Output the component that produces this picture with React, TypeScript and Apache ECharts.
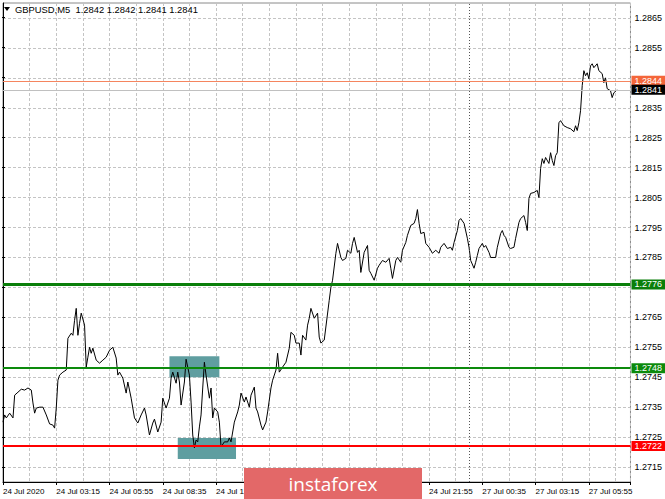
import React, { useEffect, useRef } from "react";
import * as echarts from "echarts";

// ---- data ----
const symbolTitle = "GBPUSD,M5  1.2842 1.2842 1.2841 1.2841";
const timeLabels = [
  "24 Jul 2020", "24 Jul 03:15", "24 Jul 05:55", "24 Jul 08:35", "24 Jul 11:15",
  "24 Jul 13:55", "24 Jul 16:35", "24 Jul 19:15", "24 Jul 21:55",
  "27 Jul 00:35", "27 Jul 03:15", "27 Jul 05:55",
];
// labels that sit fully under the watermark in the reference
const labelsUnderLogo = [5, 6, 7];
const barsPerLabel = 32;
const barsVisible = 377;
const priceMin = 1.271;
const priceMax = 1.287;

// [bar index, close]
const closes: [number, number][] = [
  [0,1.27300],[1,1.27324],[2,1.27314],[4,1.27330],[6,1.27314],[7,1.27390],[9,1.27400],[11,1.27410],[13,1.27407],[15,1.27414],
  [17,1.27407],[18,1.27364],[19,1.27330],[20,1.27347],[22,1.27350],[24,1.27350],[26,1.27324],[28,1.27294],[30,1.27290],[31,1.27280],
  [32,1.27347],[33,1.27440],[34,1.27457],[36,1.27467],[38,1.27474],[39,1.27580],[41,1.27597],[42,1.27590],[43,1.27640],[44,1.27680],
  [45,1.27590],[46,1.27630],[47,1.27664],[49,1.27624],[50,1.27484],[51,1.27517],[52,1.27550],[53,1.27530],[54,1.27547],[56,1.27507],
  [58,1.27497],[60,1.27507],[62,1.27517],[64,1.27540],[66,1.27550],[68,1.27514],[69,1.27457],[70,1.27467],[72,1.27447],[74,1.27397],
  [75,1.27434],[77,1.27380],[79,1.27314],[81,1.27297],[83,1.27324],[85,1.27347],[86,1.27324],[88,1.27257],[90,1.27297],[91,1.27310],
  [93,1.27267],[95,1.27300],[96,1.27380],[98,1.27347],[100,1.27380],[101,1.27447],[102,1.27467],[104,1.27430],[105,1.27467],[106,1.27434],
  [107,1.27357],[109,1.27434],[110,1.27510],[112,1.27457],[113,1.27367],[114,1.27257],[115,1.27214],[116,1.27240],[117,1.27234],[118,1.27284],
  [119,1.27324],[120,1.27414],[121,1.27500],[122,1.27457],[124,1.27380],[125,1.27414],[126,1.27314],[127,1.27347],[129,1.27334],[130,1.27300],
  [131,1.27217],[133,1.27234],[135,1.27234],[136,1.27247],[137,1.27234],[139,1.27300],[141,1.27334],[142,1.27357],[143,1.27397],[145,1.27367],
  [146,1.27384],[148,1.27350],[149,1.27390],[151,1.27417],[152,1.27347],[153,1.27334],[155,1.27290],[156,1.27274],[158,1.27300],[159,1.27334],
  [161,1.27414],[162,1.27440],[164,1.27474],[165,1.27530],[166,1.27467],[168,1.27484],[170,1.27500],[172,1.27547],[173,1.27600],[175,1.27590],
  [176,1.27564],[178,1.27564],[179,1.27524],[180,1.27590],[182,1.27574],[183,1.27624],[184,1.27647],[185,1.27680],[187,1.27647],[189,1.27664],
  [190,1.27584],[191,1.27564],[193,1.27574],[196,1.27707],[197,1.27750],[198,1.27774],[200,1.27864],[201,1.27897],[203,1.27850],[204,1.27840],
  [206,1.27847],[207,1.27874],[209,1.27864],[210,1.27897],[211,1.27917],[213,1.27867],[214,1.27874],[215,1.27800],[217,1.27867],[219,1.27890],
  [220,1.27807],[221,1.27797],[223,1.27774],[225,1.27814],[226,1.27824],[228,1.27840],[230,1.27834],[232,1.27847],[233,1.27814],[234,1.27780],
  [236,1.27840],[237,1.27850],[239,1.27834],[240,1.27874],[242,1.27900],[243,1.27924],[245,1.27957],[247,1.27964],[248,1.27980],[249,1.28010],
  [250,1.27964],[251,1.27930],[253,1.27934],[254,1.27897],[256,1.27884],[258,1.27864],[260,1.27874],[262,1.27864],[263,1.27884],[265,1.27897],
  [267,1.27880],[269,1.27884],[270,1.27874],[271,1.27900],[273,1.27940],[274,1.27974],[275,1.27980],[277,1.27964],[279,1.27914],[280,1.27884],
  [281,1.27840],[283,1.27814],[284,1.27834],[285,1.27857],[286,1.27880],[288,1.27897],[289,1.27884],[290,1.27890],[292,1.27867],[293,1.27850],
  [296,1.27850],[297,1.27884],[299,1.27930],[300,1.27940],[301,1.27924],[302,1.27917],[304,1.27884],[305,1.27880],[307,1.27884],[308,1.27914],
  [310,1.27967],[311,1.27980],[313,1.27990],[314,1.27967],[315,1.27940],[316,1.28047],[317,1.28064],[319,1.28067],[321,1.28074],[322,1.28050],
  [323,1.28147],[324,1.28180],[325,1.28164],[326,1.28184],[328,1.28164],[329,1.28200],[330,1.28174],[331,1.28157],[332,1.28190],[333,1.28200],
  [334,1.28300],[335,1.28307],[337,1.28290],[339,1.28284],[341,1.28280],[343,1.28270],[344,1.28290],[345,1.28274],[346,1.28300],[347,1.28340],
  [348,1.28424],[349,1.28474],[350,1.28457],[351,1.28467],[352,1.28447],[353,1.28490],[354,1.28497],[355,1.28484],[357,1.28497],[358,1.28474],
  [360,1.28464],[361,1.28434],[362,1.28450],[363,1.28414],[365,1.28407],[366,1.28384],[367,1.28400],[369,1.28410],
];

const levelPrices = [1.2844, 1.2841, 1.2776, 1.2748, 1.2722];
const zoneBars: [number, number][] = [[100, 130], [105, 140]];
const zonePrices: [number, number][] = [[1.2752, 1.2745], [1.27247, 1.27177]];
const sessionBreakBar = 280;

// ---- styles ----
const FONT = '"Liberation Sans", Arial, sans-serif';
const levelStyles = [
  { line: "#f5855f", width: 1, bg: "#f4663a" },
  { line: "#c0c0c0", width: 1, bg: "#000000" },
  { line: "#0a7f0a", width: 3, bg: "#0a7f0a" },
  { line: "#0c8a0c", width: 2, bg: "#0c8a0c" },
  { line: "#ff0000", width: 2, bg: "#ff0000" },
];
const gridColor = "#c4c4c4";

export default function App() {
  const ref = useRef<HTMLDivElement>(null);
  useEffect(() => {
    if (!ref.current) return;
    const chart = echarts.init(ref.current, undefined, { renderer: "svg" });
    const levelData: any[] = levelPrices.map((p, i) => ({
      yAxis: p,
      lineStyle: { color: levelStyles[i].line, width: levelStyles[i].width, type: "solid" },
      label: {
        show: true,
        position: "end",
        distance: 1,
        formatter: () => p.toFixed(4),
        color: "#ffffff",
        backgroundColor: levelStyles[i].bg,
        padding: [1, 3, 0, 3],
        fontSize: 9,
        fontFamily: FONT,
      },
    }));
    levelData.push({
      xAxis: sessionBreakBar,
      lineStyle: { color: "#555555", width: 1, type: [1, 2] },
      label: { show: false },
    });

    const option: any = {
      animation: false,
      backgroundColor: "#ffffff",
      grid: [
        { left: 2, right: 34, top: 3, bottom: 17, show: true, borderColor: "#8a8a8a", borderWidth: 1, backgroundColor: "#ffffff" },
        { left: 2, right: 34, top: 17, bottom: 32 },
      ],
      xAxis: [
        {
          type: "value",
          gridIndex: 0,
          min: 0,
          max: barsVisible,
          interval: barsPerLabel / 2,
          axisLine: { show: true, lineStyle: { color: "#000", width: 1 } },
          axisTick: { show: false },
          axisLabel: {
            show: true,
            margin: 5,
            align: "left",
            fontSize: 8,
            fontFamily: FONT,
            color: "#000",
            showMaxLabel: false,
            formatter: (v: number) => {
              const k = Math.round(v);
              if (k % barsPerLabel !== 0) return "";
              const idx = k / barsPerLabel;
              if (labelsUnderLogo.includes(idx)) return "";
              return timeLabels[idx] ?? "";
            },
          },
          splitLine: { show: true, lineStyle: { color: gridColor, type: [3, 2], width: 1 } },
        },
        {
          type: "value",
          gridIndex: 0,
          position: "bottom",
          min: 0,
          max: barsVisible,
          interval: barsPerLabel,
          axisLine: { show: false },
          axisTick: { show: true, length: 3, lineStyle: { color: "#000" } },
          axisLabel: { show: false },
          splitLine: { show: false },
        },
        { type: "value", gridIndex: 1, show: false, min: 0, max: 1 },
      ],
      yAxis: [
        {
          type: "value",
          gridIndex: 0,
          position: "right",
          min: priceMin,
          max: priceMax,
          interval: 0.0005,
          axisLine: { show: true, lineStyle: { color: "#000", width: 1 } },
          axisTick: { show: false },
          axisLabel: {
            show: true,
            margin: 4,
            fontSize: 9,
            fontFamily: FONT,
            color: "#000",
            formatter: (v: number) => {
              const k = Math.round(v * 10000);
              if (k % 10 !== 5) return "";
              if (levelPrices.some((p) => Math.abs(p - v) < 0.00015)) return "";
              return v.toFixed(4);
            },
          },
          splitLine: { show: true, lineStyle: { color: ["rgba(0,0,0,0)", gridColor], type: [3, 2], width: 1 } },
        },
        {
          type: "value",
          gridIndex: 1,
          position: "right",
          min: 1.2715,
          max: 1.2865,
          interval: 0.001,
          axisLine: { show: false },
          axisTick: { show: true, length: 3, lineStyle: { color: "#000" } },
          axisLabel: { show: false },
          splitLine: { show: false },
        },
      ],
      series: [
        {
          type: "line",
          xAxisIndex: 0,
          yAxisIndex: 0,
          data: [],
          z: 1,
          markArea: {
            silent: true,
            itemStyle: { color: "#5f9ea0", opacity: 1 },
            data: zoneBars.map((b, i) => [
              { coord: [b[0], zonePrices[i][0]] },
              { coord: [b[1], zonePrices[i][1]] },
            ]),
          },
        },
        {
          type: "line",
          xAxisIndex: 0,
          yAxisIndex: 0,
          data: [],
          z: 2,
          markLine: {
            silent: true,
            symbol: ["none", "none"],
            precision: 4,
            data: levelData,
          },
        },
        {
          type: "line",
          xAxisIndex: 0,
          yAxisIndex: 0,
          data: closes,
          z: 3,
          showSymbol: false,
          lineStyle: { color: "#000000", width: 1 },
        },
      ],
      graphic: [
        { type: "polygon", z: 100, shape: { points: [[4, 7], [10, 7], [7, 11]] }, style: { fill: "#000" } },
        {
          type: "text",
          z: 100,
          x: 15,
          y: 9,
          style: { text: symbolTitle, font: `9.4px ${FONT}`, fill: "#000", textVerticalAlign: "middle" },
        },
        {
          type: "rect",
          z: 100,
          shape: { x: 244, y: 468, width: 178, height: 31 },
          style: { fill: "#e36868" },
        },
        {
          type: "text",
          z: 101,
          x: 333,
          y: 484,
          style: {
            text: "instaforex",
            font: '19px "Open Sans", sans-serif',
            fill: "#ffffff",
            textAlign: "center",
            textVerticalAlign: "middle",
          },
        },
      ],
    };
    chart.setOption(option);
    return () => chart.dispose();
  }, []);
  return (
    <div
      ref={ref}
      style={{ position: "absolute", left: 0, top: 0, width: 665, height: 499 }}
    />
  );
}
